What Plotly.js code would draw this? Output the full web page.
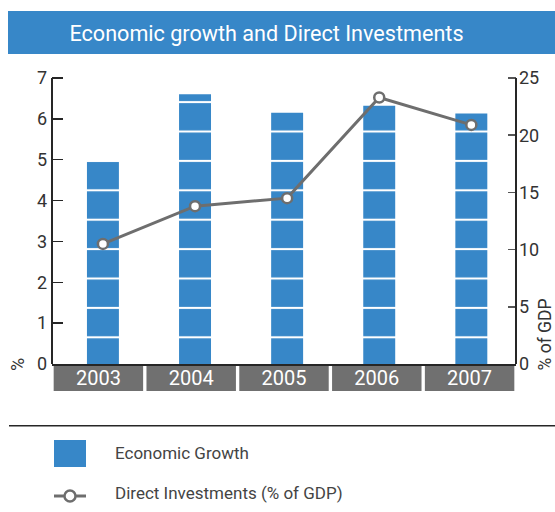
<!DOCTYPE html>
<html>
<head>
<meta charset="utf-8">
<script src="https://cdn.plot.ly/plotly-3.0.1.min.js"></script>
<style>html,body{margin:0;padding:0;background:#fff;}#chart{width:555px;height:512px;}</style>
</head>
<body>
<div id="chart"></div>
<script>
// ---- data ----
const years = ['2003', '2004', '2005', '2006', '2007'];
const economicGrowth = [4.95, 6.6, 6.15, 6.32, 6.13];         // %
const directInvestments = [10.5, 13.8, 14.5, 23.3, 20.9];     // % of GDP
const leftTicks = [0, 1, 2, 3, 4, 5, 6, 7];
const rightTicks = [0, 5, 10, 15, 20, 25];
const growthName = 'Economic Growth';
const fdiName = 'Direct Investments (% of GDP)';
const titleText = 'Economic growth and Direct Investments';

// ---- style ----
const W = 555, H = 512;
const PL = 52, PR = 516, PT = 58, PB = 364;
const blue = '#3787c8';
const grey = '#6e6e6e';
const dark = '#262626';
const FONT = 'Roboto, sans-serif';
const px2x = p => (p - PL) / (PR - PL);
const px2y = p => (PB - p) / (PB - PT);
const leftTop = 7.49;
const rightTop = 25 * leftTop / 7;

const idx = years.map((_, i) => i);

const traces = [
  {
    type: 'bar', x: idx, y: economicGrowth, name: growthName,
    xaxis: 'x', yaxis: 'y', width: 0.347,
    marker: {
      color: blue,
      line: {width: 0},
      pattern: {shape: '-', bgcolor: blue, fgcolor: '#ffffff', size: 29.4, solidity: 0.07, fillmode: 'replace'}
    },
    hoverinfo: 'skip', showlegend: false
  },
  {
    type: 'scatter', mode: 'lines+markers', x: idx, y: directInvestments, name: fdiName,
    xaxis: 'x', yaxis: 'y2',
    line: {color: grey, width: 3},
    marker: {symbol: 'circle', size: 10, color: '#ffffff', line: {color: grey, width: 2.5}},
    hoverinfo: 'skip', showlegend: false, cliponaxis: false
  }
];

const shapes = [];
// title band
shapes.push({type: 'rect', xref: 'paper', yref: 'paper', x0: px2x(8), x1: px2x(556), y0: px2y(11), y1: px2y(54), fillcolor: blue, line: {width: 0}, layer: 'below'});
// axis lines
shapes.push({type: 'line', xref: 'paper', yref: 'y', x0: 0, x1: 0, y0: 0, y1: 7, line: {color: dark, width: 2}});
shapes.push({type: 'line', xref: 'paper', yref: 'y2', x0: 1, x1: 1, y0: 0, y1: 25, line: {color: dark, width: 2}});
// grey label boxes under categories
years.forEach((_, i) => {
  shapes.push({type: 'rect', xref: 'x2', yref: 'paper', x0: i - 0.5 + 0.018, x1: i + 0.5 - 0.018,
    y0: px2y(391), y1: px2y(366), fillcolor: '#707070', line: {width: 0}, layer: 'below'});
});
// separator line above legend
shapes.push({type: 'line', xref: 'paper', yref: 'paper', x0: px2x(9), x1: px2x(556), y0: px2y(425.7), y1: px2y(425.7), line: {color: dark, width: 1.5}});
// legend icons
shapes.push({type: 'rect', xref: 'paper', yref: 'paper', x0: px2x(54), x1: px2x(86), y0: px2y(467), y1: px2y(440), fillcolor: blue, line: {width: 0}});
shapes.push({type: 'line', xref: 'paper', yref: 'paper', x0: px2x(54), x1: px2x(86), y0: px2y(496), y1: px2y(496), line: {color: grey, width: 3}});
shapes.push({type: 'circle', xref: 'paper', yref: 'paper', x0: px2x(64.5), x1: px2x(75.5), y0: px2y(501.5), y1: px2y(490.5), fillcolor: '#ffffff', line: {color: grey, width: 2.5}});

const annotations = [
  {text: '%', xref: 'paper', yref: 'paper', x: px2x(17), y: px2y(365), textangle: -90, showarrow: false, xanchor: 'center', yanchor: 'middle', font: {family: FONT, size: 18, color: '#333'}},
  {text: '% of GDP', xref: 'paper', yref: 'paper', x: px2x(544.5), y: px2y(335), textangle: -90, showarrow: false, xanchor: 'center', yanchor: 'middle', font: {family: FONT, size: 17.5, color: '#333'}},
  {text: growthName, xref: 'paper', yref: 'paper', x: px2x(113), y: px2y(453), showarrow: false, xanchor: 'left', yanchor: 'middle', font: {family: FONT, size: 17, color: '#444'}},
  {text: fdiName, xref: 'paper', yref: 'paper', x: px2x(113), y: px2y(493), showarrow: false, xanchor: 'left', yanchor: 'middle', font: {family: FONT, size: 17, color: '#444'}}
];

const layout = {
  width: W, height: H,
  margin: {l: PL, r: W - PR, t: PT, b: H - PB, pad: 0},
  paper_bgcolor: '#ffffff', plot_bgcolor: '#ffffff',
  font: {family: FONT, color: '#333'},
  title: {text: titleText, x: 266.5 / W, xanchor: 'center', xref: 'container', y: 1 - 33 / H, yanchor: 'middle', yref: 'container',
    font: {family: FONT, size: 21.6, color: '#ffffff'}},
  showlegend: false,
  bargap: 0.65,
  xaxis: {range: [-0.553, 4.485], showticklabels: false, ticks: '', showgrid: false, zeroline: false,
    showline: true, linecolor: dark, linewidth: 2, fixedrange: true},
  xaxis2: {overlaying: 'x', anchor: 'y', side: 'bottom', range: [-0.5, 4.5], tickvals: idx, ticktext: years,
    ticks: '', showgrid: false, zeroline: false, showline: false, ticklabelstandoff: 0,
    tickfont: {family: FONT, size: 20, color: '#ffffff'}},
  yaxis: {range: [0, leftTop], tickvals: leftTicks, ticks: 'inside', ticklen: 11, tickwidth: 1.5, tickcolor: dark,
    showgrid: false, zeroline: false, showline: false, ticklabelstandoff: 4,
    tickfont: {family: FONT, size: 18, color: '#333'}},
  yaxis2: {overlaying: 'y', side: 'right', anchor: 'x', range: [0, rightTop], tickvals: rightTicks, ticks: 'inside', ticklen: 8,
    tickwidth: 1.5, tickcolor: '#555', showgrid: false, zeroline: false, showline: false, ticklabelstandoff: 2,
    tickfont: {family: FONT, size: 18, color: '#333'}},
  shapes: shapes,
  annotations: annotations
};

Plotly.newPlot('chart', traces, layout, {displayModeBar: false, staticPlot: true});
</script>
</body>
</html>
